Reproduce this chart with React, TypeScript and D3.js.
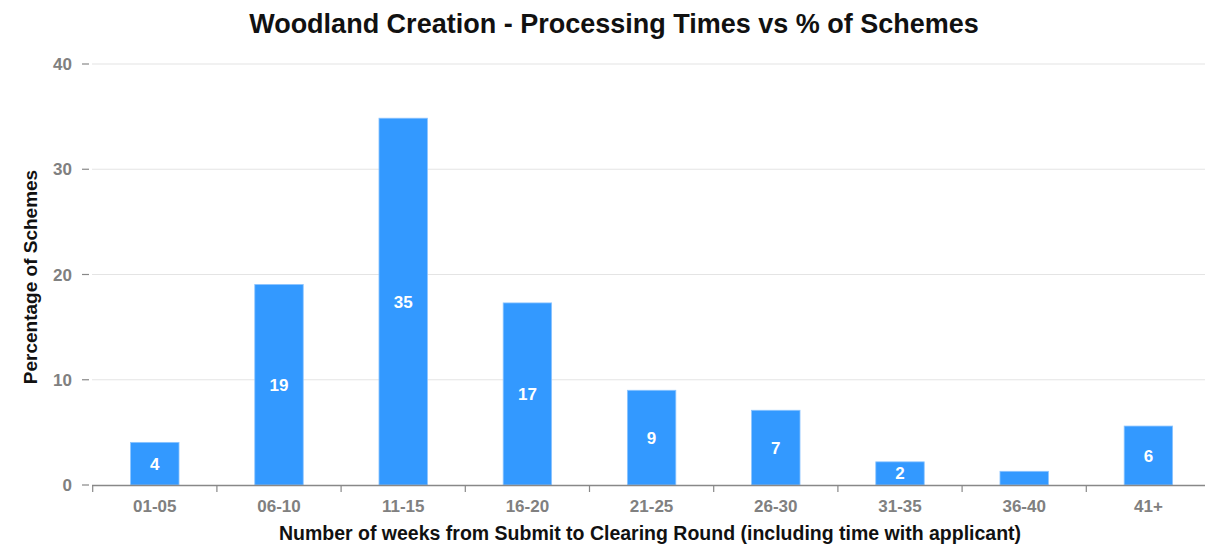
import React, { useEffect, useRef } from 'react'
import * as d3 from 'd3'

const categories = ['01-05', '06-10', '11-15', '16-20', '21-25', '26-30', '31-35', '36-40', '41+']
const percentages = [4.05, 19.05, 34.85, 17.3, 9.0, 7.1, 2.2, 1.3, 5.6]
const labels = ['4', '19', '35', '17', '9', '7', '2', '', '6']
const yTicks = [0, 10, 20, 30, 40]

export default function App() {
    const ref = useRef<SVGSVGElement | null>(null)

    const width = 1205
    const height = 551
    const font = '"Liberation Sans", Arial, sans-serif'

    function draw() {
        const svg = d3.select(ref.current)
        svg.selectAll('*').remove()

        const x = d3.scaleBand<string>()
            .domain(categories)
            .range([92.7, 1210.5])
            .paddingInner(0.61)
            .paddingOuter(0.305)

        const y = d3.scaleLinear().domain([0, 40]).range([485, 64])

        // gridlines
        svg.append('g')
            .selectAll('line')
            .data(yTicks.filter(t => t > 0))
            .enter().append('line')
            .attr('x1', 92).attr('x2', width)
            .attr('y1', d => y(d)).attr('y2', d => y(d))
            .attr('stroke', '#e4e4e4').attr('stroke-width', 1.2)

        // y ticks
        const yAxis = svg.append('g')
        yAxis.selectAll('line')
            .data(yTicks)
            .enter().append('line')
            .attr('x1', 82).attr('x2', 89)
            .attr('y1', d => y(d)).attr('y2', d => y(d))
            .attr('stroke', '#888').attr('stroke-width', 1.2)
        yAxis.selectAll('text')
            .data(yTicks)
            .enter().append('text')
            .attr('x', 72).attr('y', d => y(d) + 6)
            .attr('text-anchor', 'end')
            .style('font-family', font).style('font-size', '17px').style('font-weight', 'bold')
            .attr('fill', '#808080')
            .text(d => d)

        // bars
        svg.append('g')
            .selectAll('rect')
            .data(categories)
            .enter().append('rect')
            .attr('x', d => x(d)!)
            .attr('width', x.bandwidth())
            .attr('y', (d, i) => y(percentages[i]))
            .attr('height', (d, i) => y(0) - y(percentages[i]))
            .attr('fill', '#3399ff')
            .attr('stroke', '#8cc4ff').attr('stroke-width', 0.8)

        // bar labels
        svg.append('g')
            .selectAll('text')
            .data(categories)
            .enter().append('text')
            .attr('x', d => x(d)! + x.bandwidth() / 2)
            .attr('y', (d, i) => (y(percentages[i]) + y(0)) / 2 + 6)
            .attr('text-anchor', 'middle')
            .style('font-family', font).style('font-size', '17px').style('font-weight', 'bold')
            .attr('fill', '#ffffff')
            .text((d, i) => labels[i])

        // x axis
        const step = x.step()
        const xAxis = svg.append('g')
        xAxis.append('line')
            .attr('x1', 92).attr('x2', width)
            .attr('y1', 485.5).attr('y2', 485.5)
            .attr('stroke', '#888').attr('stroke-width', 1.5)
        xAxis.selectAll('line.tick')
            .data(categories)
            .enter().append('line')
            .attr('class', 'tick')
            .attr('x1', d => x(d)! + x.bandwidth() / 2 - step / 2)
            .attr('x2', d => x(d)! + x.bandwidth() / 2 - step / 2)
            .attr('y1', 485).attr('y2', 492)
            .attr('stroke', '#888').attr('stroke-width', 1.2)
        xAxis.selectAll('text')
            .data(categories)
            .enter().append('text')
            .attr('x', d => x(d)! + x.bandwidth() / 2)
            .attr('y', 512)
            .attr('text-anchor', 'middle')
            .style('font-family', font).style('font-size', '17px').style('font-weight', 'bold')
            .attr('fill', '#808080')
            .text(d => d)

        // titles
        svg.append('text')
            .attr('x', 614).attr('y', 33)
            .attr('text-anchor', 'middle')
            .style('font-family', font).style('font-size', '27px').style('font-weight', 'bold')
            .attr('fill', '#111')
            .text('Woodland Creation - Processing Times vs % of Schemes')

        svg.append('text')
            .attr('x', 650).attr('y', 540)
            .attr('text-anchor', 'middle')
            .style('font-family', font).style('font-size', '19.5px').style('font-weight', 'bold')
            .attr('fill', '#111')
            .text('Number of weeks from Submit to Clearing Round (including time with applicant)')

        svg.append('text')
            .attr('transform', 'translate(37,277) rotate(-90)')
            .attr('text-anchor', 'middle')
            .style('font-family', font).style('font-size', '19px').style('font-weight', 'bold')
            .attr('fill', '#111')
            .text('Percentage of Schemes')
    }

    useEffect(() => {
        draw()
    }, [])

    return (
        <div style={{ position: 'absolute', left: 0, top: 0 }}>
            <svg ref={ref} width={width} height={height} style={{ display: 'block', background: '#fff' }} />
        </div>
    )
}
